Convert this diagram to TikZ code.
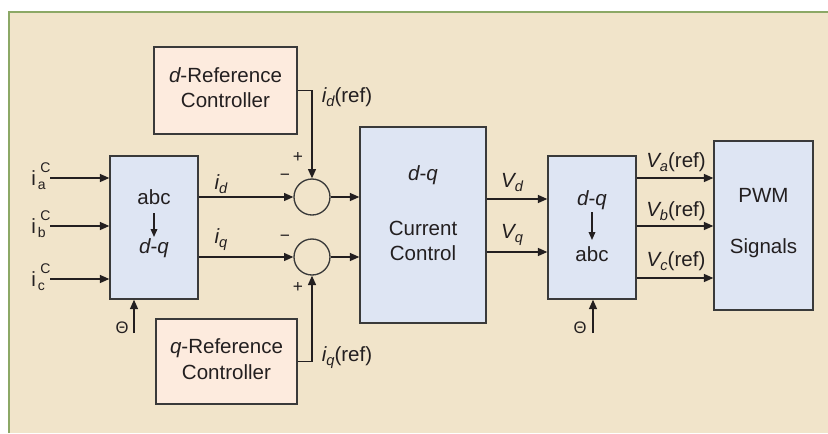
\documentclass[tikz,border=0pt]{standalone}
\usepackage{fontspec}
\setmainfont{Liberation Sans}
\usetikzlibrary{arrows.meta}
\definecolor{cream}{HTML}{F1E4CA}
\definecolor{frameg}{HTML}{8CA866}
\definecolor{blueb}{HTML}{DEE5F3}
\definecolor{pinkb}{HTML}{FDEBDE}
\definecolor{ink}{HTML}{231F20}
\definecolor{boxline}{HTML}{3A3A3A}
\newcommand\scr{\fontsize{10.5}{10.5}\selectfont}
\newcommand\lsub[1]{\raisebox{-3pt}{\fontsize{11}{11}\selectfont #1}}
\newcommand\icab[1]{i\kern1.5pt\rlap{\kern2pt\raisebox{9.5pt}{\scr C}}\raisebox{-3.7pt}{\scr #1}}
\begin{document}
\begin{tikzpicture}[x=0.75pt,y=-0.75pt,
  font=\fontsize{15.4}{18}\selectfont,
  bluebox/.style={draw=boxline,line width=1.1pt,fill=blueb,inner sep=0pt},
  pinkbox/.style={draw=boxline,line width=1.1pt,fill=pinkb,inner sep=0pt},
  txt/.style={inner sep=0pt,text=ink},
  sumc/.style={circle,draw=boxline,line width=1pt,minimum size=27pt,inner sep=0pt},
  arr/.style={draw=ink,line width=1pt,-{Triangle[length=7pt,width=6pt]}},
  iarr/.style={draw=ink,line width=1pt,-{Triangle[length=6pt,width=5pt]}},
  sgn/.style={inner sep=0pt,text=ink,font=\fontsize{13}{13}\selectfont}]
\useasboundingbox (0,0) rectangle (828,433);
\fill[white] (0,0) rectangle (828,433);
\fill[cream] (8,11) rectangle (828,433);
\draw[frameg,line width=2pt] (9,433) -- (9,12) -- (828,12);

% boxes
\node[pinkbox,minimum width=107.25pt,minimum height=65.25pt] (dref) at (225.5,90.5) {};
\node[pinkbox,minimum width=105.75pt,minimum height=63.75pt] (qref) at (226.5,361.5) {};
\node[bluebox,minimum width=66pt,minimum height=107.25pt] (abc) at (154,227.5) {};
\node[bluebox,minimum width=94.5pt,minimum height=147pt] (cc) at (423,225) {};
\node[bluebox,minimum width=66pt,minimum height=107.25pt] (dqabc) at (592,227.5) {};
\node[bluebox,minimum width=74.25pt,minimum height=126.75pt] (pwm) at (763.5,225.5) {};
\node[sumc] (s1) at (312,197) {};
\node[sumc] (s2) at (312,257) {};

% box texts
\node[txt] (drefa) at (225.5,75) {\itshape d\upshape-Reference};
\node[txt] (drefb) at (225.5,100) {Controller};
\node[txt] (qrefa) at (226.5,348) {\itshape q\upshape-Reference};
\node[txt] (qrefb) at (226.5,372) {Controller};
\node[txt] (abca) at (154,197) {abc};
\node[txt] (abcb) at (154,248) {\itshape d\upshape-\itshape q};
\node[txt] (cca) at (423,175) {\itshape d\upshape-\itshape q};
\node[txt] (ccb) at (423,228) {Current};
\node[txt] (ccc) at (423,253) {Control};
\node[txt] (dqa) at (592,200) {\itshape d\upshape-\itshape q};
\node[txt] (dqb) at (592,254) {abc};
\node[txt] (pwma) at (763.5,195) {PWM};
\node[txt] (pwmb) at (763.5,248) {Signals};

% inner arrows
\coordinate (a1s) at (154,213); \coordinate (a1e) at (154,237);
\draw[iarr] (a1s) -- (a1e);
\coordinate (a2s) at (592,212); \coordinate (a2e) at (592,240);
\draw[iarr] (a2s) -- (a2e);

% inputs
\coordinate (ia) at (50,178);
\coordinate (ib) at (50,226);
\coordinate (ic) at (50,279);
\draw[arr] (ia) -- (ia -| abc.west);
\draw[arr] (ib) -- (ib -| abc.west);
\draw[arr] (ic) -- (ic -| abc.west);
\node[txt,anchor=base west] (lia) at (31,185) {\icab{a}};
\node[txt,anchor=base west] (lib) at (31,233) {\icab{b}};
\node[txt,anchor=base west] (lic) at (31,286) {\icab{c}};

\coordinate (th1) at (134,333);
\draw[arr] (th1) -- (th1 |- abc.south);
\node[txt,font=\fontsize{12.5}{12.5}\selectfont] (lth1) at (122,328) {Θ};
\coordinate (th2) at (593,333);
\draw[arr] (th2) -- (th2 |- dqabc.south);
\node[txt,font=\fontsize{12.5}{12.5}\selectfont] (lth2) at (580,328) {Θ};

% id, iq
\draw[arr] (s1 -| abc.east) -- (s1.west);
\draw[arr] (s2 -| abc.east) -- (s2.west);
\node[txt] (lid) at (221,184) {\itshape i\lsub{d}};
\node[txt] (liq) at (221,240) {\itshape i\lsub{q}};
\draw[arr] (s1.east) -- (s1 -| cc.west);
\draw[arr] (s2.east) -- (s2 -| cc.west);

% references
\draw[arr] (dref.east) -| (s1.north);
\draw[arr] (qref.east) -| (s2.south);
\node[txt] (lidr) at (347,97) {\itshape i\lsub{d}\upshape(ref)};
\node[txt] (liqr) at (347,358) {\itshape i\lsub{q}\upshape(ref)};

\node[sgn] (p1) at (298,157) {+};
\node[sgn] (m1) at (285,177) {−};
\node[sgn] (m2) at (285,238) {−};
\node[sgn] (p2) at (298,287) {+};

% Vd Vq
\coordinate (yVd) at (0,199);
\coordinate (yVq) at (0,252);
\draw[arr] (cc.east |- yVd) -- (dqabc.west |- yVd);
\draw[arr] (cc.east |- yVq) -- (dqabc.west |- yVq);
\node[txt] (lvd) at (512,183) {\itshape V\lsub{d}};
\node[txt] (lvq) at (512,235) {\itshape V\lsub{q}};

% Va Vb Vc
\coordinate (yVa) at (0,178);
\coordinate (yVb) at (0,226);
\coordinate (yVc) at (0,278);
\draw[arr] (dqabc.east |- yVa) -- (pwm.west |- yVa);
\draw[arr] (dqabc.east |- yVb) -- (pwm.west |- yVb);
\draw[arr] (dqabc.east |- yVc) -- (pwm.west |- yVc);
\node[txt] (lva) at (676,162) {\itshape V\lsub{a}\upshape(ref)};
\node[txt] (lvb) at (676,211) {\itshape V\lsub{b}\upshape(ref)};
\node[txt] (lvc) at (676,261) {\itshape V\lsub{c}\upshape(ref)};
\end{tikzpicture}
\end{document}
